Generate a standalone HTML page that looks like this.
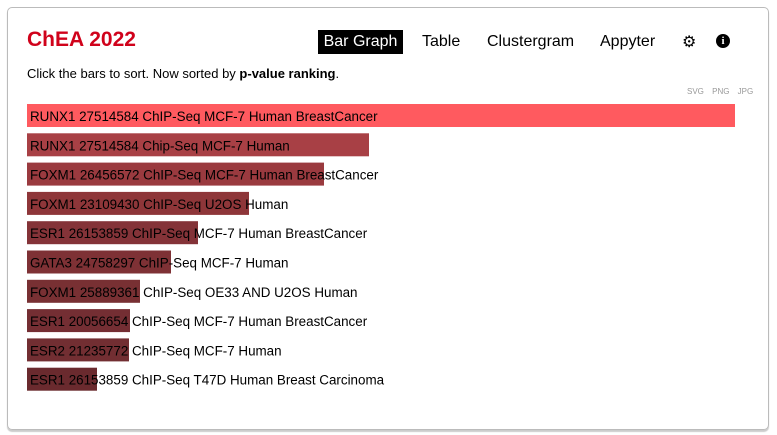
<!DOCTYPE html>
<html><head><meta charset="utf-8"><style>
body{margin:0;width:777px;height:435px;background:#fff;font-family:"Liberation Sans",sans-serif;overflow:hidden;position:relative}
.card{position:absolute;left:7px;top:7px;width:762px;height:423px;border:1px solid #bbb;border-radius:5px;box-sizing:border-box;box-shadow:0 2px 1px #ccc}
.t{position:absolute;white-space:nowrap}
</style></head><body>
<div class="card"></div>
<div class="t" style="left:27px;top:28px;font-size:21px;font-weight:bold;color:#d0021b">ChEA 2022</div>
<div class="t" style="left:318px;top:30px;width:85px;height:24px;background:#000;color:#fff;font-size:16px;line-height:24px;text-align:center">Bar Graph</div>
<div class="t" style="left:422px;top:33px;font-size:16px">Table</div>
<div class="t" style="left:487px;top:33px;font-size:16px">Clustergram</div>
<div class="t" style="left:600px;top:33px;font-size:16px">Appyter</div>
<div class="t" style="left:682px;top:32px;font-size:16px">⚙</div>
<div class="t" style="left:716px;top:34px;width:14px;height:14px;border-radius:7px;background:#000;color:#fff;font-size:11px;font-weight:bold;text-align:center;line-height:14px;font-family:'Liberation Serif',serif">i</div>
<div class="t" style="left:27px;top:66px;font-size:13px">Click the bars to sort. Now sorted by <b>p-value ranking</b>.</div>
<div class="t" style="left:687px;top:87px;font-size:8px;color:#999;word-spacing:6px">SVG PNG JPG</div>
<svg id="chart" width="777" height="435" style="position:absolute;left:0;top:0"></svg>
<script>
const labels=["RUNX1 27514584 ChIP-Seq MCF-7 Human BreastCancer","RUNX1 27514584 Chip-Seq MCF-7 Human","FOXM1 26456572 ChIP-Seq MCF-7 Human BreastCancer","FOXM1 23109430 ChIP-Seq U2OS Human","ESR1 26153859 ChIP-Seq MCF-7 Human BreastCancer","GATA3 24758297 ChIP-Seq MCF-7 Human","FOXM1 25889361 ChIP-Seq OE33 AND U2OS Human","ESR1 20056654 ChIP-Seq MCF-7 Human BreastCancer","ESR2 21235772 ChIP-Seq MCF-7 Human","ESR1 26153859 ChIP-Seq T47D Human Breast Carcinoma"];
const values=[708,342,297,222,171,144,113,103,102,70];
const colors=["#ff5a5f","#a84045","#9a3a3f","#8e3639","#843338","#7e3135","#783033","#742e33","#722e32","#6a2a2e"];
const svg=document.getElementById('chart');const NS="http://www.w3.org/2000/svg";
const maxV=Math.max(...values);
const x=v=>v/maxV*708;
const y=i=>104+i*29.3;
labels.forEach((l,i)=>{
 const r=document.createElementNS(NS,'rect');
 r.setAttribute('x',27);r.setAttribute('y',y(i));r.setAttribute('width',x(values[i]));r.setAttribute('height',23);r.setAttribute('fill',colors[i]);
 
 
 svg.appendChild(r);
 const t=document.createElementNS(NS,'text');
 t.setAttribute('x',30);t.setAttribute('y',y(i)+17);t.setAttribute('font-size','13.4');t.setAttribute('font-family','Liberation Sans, sans-serif');t.setAttribute('fill','#000');
 t.textContent=l;
 
 
 svg.appendChild(t);
});
</script>
</body></html>
